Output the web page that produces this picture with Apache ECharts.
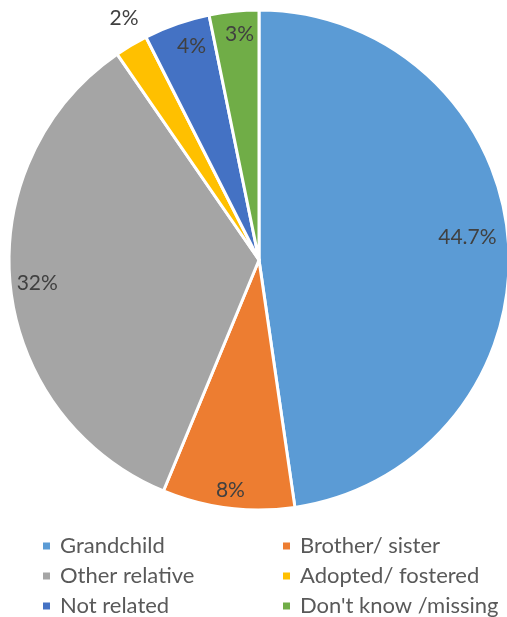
<!DOCTYPE html>
<html>
<head>
<meta charset="utf-8">
<script src="https://cdn.jsdelivr.net/npm/echarts@6/dist/echarts.min.js"></script>
<style>
  html, body { margin: 0; padding: 0; background: #fff; }
  #chart { width: 507px; height: 617px; }
</style>
</head>
<body>
<div id="chart"></div>
<script>
// Relationship categories and their shares (percent)
const categories = ['Grandchild', 'Brother/ sister', 'Other relative', 'Adopted/ fostered', 'Not related', "Don't know /missing"];
const shares = [44.7, 8, 32, 2, 4, 3];
const valueLabels = ['44.7%', '8%', '32%', '2%', '4%', '3%'];
const colors = ['#5B9BD5', '#ED7D31', '#A5A5A5', '#FFC000', '#4472C4', '#70AD47'];
// small nudges of each label away from its default inside spot
const labelNudge = [[-14, -7], [-1, 9], [0, 0], [-21, -50], [6, -3], [3, -4]];

const FONT = 'Lato, "Open Sans", sans-serif';
const center = [259, 260];
const R = 250;

const pieData = categories.map((name, i) => ({
  name, value: shares[i], itemStyle: { color: colors[i] }
}));

const labelData = categories.map((name, i) => ({
  name, value: shares[i],
  label: { offset: labelNudge[i] }
}));

const chart = echarts.init(document.getElementById('chart'), null, { renderer: 'canvas' });
chart.setOption({
  backgroundColor: '#ffffff',
  animation: false,
  color: colors,
  legend: {
    data: categories,
    left: 36,
    top: 526,
    width: 500,
    orient: 'horizontal',
    itemWidth: 9,
    itemHeight: 9,
    itemGap: 0,
    icon: 'rect',
    selectedMode: false,
    textStyle: {
      fontFamily: FONT,
      fontSize: 22,
      color: '#595959',
      width: 221,
      lineHeight: 30,
      padding: [0, 0, 0, 4]
    }
  },
  series: [
    {
      type: 'pie',
      center: center,
      radius: R,
      startAngle: 90,
      clockwise: true,
      avoidLabelOverlap: false,
      label: { show: false },
      labelLine: { show: false },
      emphasis: { disabled: true },
      itemStyle: { borderColor: '#ffffff', borderWidth: 3 },
      data: pieData
    },
    {
      // transparent ring that only carries the percentage labels
      type: 'pie',
      center: center,
      radius: [190, R],
      startAngle: 90,
      clockwise: true,
      silent: true,
      avoidLabelOverlap: false,
      emphasis: { disabled: true },
      itemStyle: { color: 'rgba(0,0,0,0)' },
      labelLine: { show: false },
      label: {
        show: true,
        position: 'inside',
        fontFamily: FONT,
        fontSize: 21,
        color: '#404040',
        formatter: p => valueLabels[p.dataIndex]
      },
      data: labelData
    }
  ]
});
</script>
</body>
</html>
